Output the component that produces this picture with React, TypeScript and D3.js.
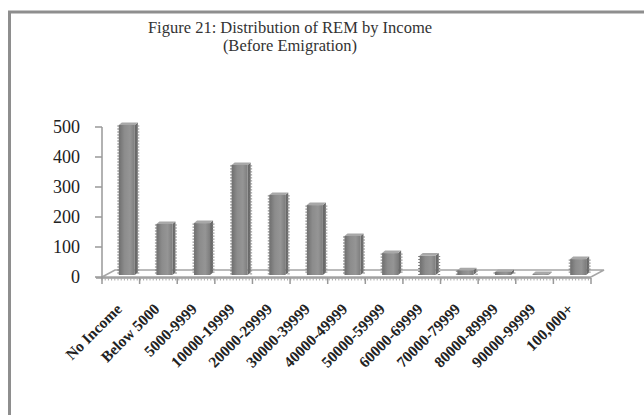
import React from "react";
import * as d3 from "d3";

const categories = [
  "No Income",
  "Below 5000",
  "5000-9999",
  "10000-19999",
  "20000-29999",
  "30000-39999",
  "40000-49999",
  "50000-59999",
  "60000-69999",
  "70000-79999",
  "80000-89999",
  "90000-99999",
  "100,000+",
];
const counts = [500, 170, 173, 367, 267, 233, 130, 73, 65, 16, 10, 3, 53];
const yTicks = [0, 100, 200, 300, 400, 500];
const titleLines = ["Figure 21: Distribution of REM by Income", "(Before Emigration)"];

const W = 644;
const H = 415;
const plotLeft = 102;
const plotRight = 591;
const baseY = 277;
const topY = 127;
// floor depth offset (back edge relative to front edge)
const depthX = 13;
const depthY = -7;
// bar placement inside the depth
const barDX = 6;
const barDY = -2;
const barW = 16;
const sideW = 3;
const capH = 2.5;

const serif = "'Liberation Serif', 'Times New Roman', serif";

export default function App() {
  const x = d3.scaleBand<string>().domain(categories).range([plotLeft, plotRight]);
  const y = d3.scaleLinear().domain([0, 500]).range([baseY, topY]);

  const floorPath = `M${plotLeft},${baseY} L${plotRight},${baseY} L${plotRight + depthX},${baseY + depthY} L${plotLeft + depthX},${baseY + depthY} Z`;

  const minorTicks = d3.range(plotLeft, plotRight, 3.2);

  return (
    <svg
      width={W}
      height={H}
      style={{ position: "absolute", left: 0, top: 0, background: "#fff" }}
    >
      <defs>
        <linearGradient id="barFront" x1="0" x2="1" y1="0" y2="0">
          <stop offset="0" stopColor="#6f6f6f" />
          <stop offset="0.35" stopColor="#8c8c8c" />
          <stop offset="0.7" stopColor="#959595" />
          <stop offset="1" stopColor="#7d7d7d" />
        </linearGradient>
      </defs>

      {/* outer frame */}
      <rect x={9.5} y={12} width={W + 10} height={H + 10} fill="none" stroke="#8e8e8e" strokeWidth={3} />

      {/* title */}
      {titleLines.map((t, i) => (
        <text
          key={t}
          x={290}
          y={33 + i * 18}
          textAnchor="middle"
          fontFamily={serif}
          fontSize={16.5}
          fill="#333"
        >
          {t}
        </text>
      ))}

      {/* floor */}
      <path d={floorPath} fill="#fff" stroke="#a5a5a5" strokeWidth={1.5} />

      {/* y axis */}
      <line x1={plotLeft} x2={plotLeft} y1={topY} y2={baseY + 2} stroke="#999" strokeWidth={1.5} />
      {yTicks.map((t) => (
        <g key={t}>
          <line x1={plotLeft - 7} x2={plotLeft} y1={y(t)} y2={y(t)} stroke="#999" strokeWidth={1.5} />
          <text
            x={80}
            y={y(t)}
            dy="0.35em"
            textAnchor="end"
            fontFamily={serif}
            fontSize={18}
            fill="#222"
          >
            {t}
          </text>
        </g>
      ))}

      {/* x axis with minor and major ticks */}
      <line x1={plotLeft - 6} x2={plotRight} y1={baseY + 1} y2={baseY + 1} stroke="#999" strokeWidth={1.5} />
      {minorTicks.map((mx, i) => (
        <line key={i} x1={mx} x2={mx} y1={baseY + 1} y2={baseY + 3.5} stroke="#aaa" strokeWidth={1} />
      ))}
      {categories.map((c) => (
        <line
          key={c}
          x1={(x(c) as number) + x.bandwidth()}
          x2={(x(c) as number) + x.bandwidth()}
          y1={baseY + 1}
          y2={baseY + 7}
          stroke="#999"
          strokeWidth={1.5}
        />
      ))}
      <line x1={plotLeft} x2={plotLeft} y1={baseY + 1} y2={baseY + 7} stroke="#999" strokeWidth={1.5} />

      {/* columns */}
      {categories.map((c, i) => {
        const cx = (x(c) as number) + x.bandwidth() / 2 + barDX;
        const x0 = cx - barW / 2;
        const yb = baseY + barDY;
        const yt = y(counts[i]) + barDY;
        const h = Math.max(yb - yt, 0.5);
        const dashes = d3.range(yt + 1, yb, 3);
        return (
          <g key={c}>
            {/* right side face */}
            <path
              d={`M${x0 + barW},${yt} L${x0 + barW + sideW},${yt - capH} L${x0 + barW + sideW},${yb - capH} L${x0 + barW},${yb} Z`}
              fill="#6a6a6a"
            />
            {/* front face */}
            <rect x={x0} y={yt} width={barW} height={h} fill="url(#barFront)" />
            {/* top cap */}
            <path
              d={`M${x0},${yt} L${x0 + sideW},${yt - capH} L${x0 + barW + sideW},${yt - capH} L${x0 + barW},${yt} Z`}
              fill="#a8a8a8"
            />
            {/* edge texture */}
            {dashes.map((dy, k) => (
              <g key={k}>
                <line x1={x0 - 1.5} x2={x0 + 2} y1={dy} y2={dy} stroke="#777" strokeWidth={1} />
                <line x1={x0 + barW + sideW - 1} x2={x0 + barW + sideW + 1.5} y1={dy} y2={dy} stroke="#888" strokeWidth={1} />
              </g>
            ))}
          </g>
        );
      })}

      {/* category labels */}
      {categories.map((c) => {
        const lx = (x(c) as number) + x.bandwidth() / 2 + 2;
        const ly = 310;
        return (
          <text
            key={c}
            x={lx}
            y={ly}
            transform={`rotate(-45, ${lx}, ${ly})`}
            textAnchor="end"
            fontFamily={serif}
            fontSize={15.5}
            fontWeight="bold"
            fill="#222"
          >
            {c}
          </text>
        );
      })}
    </svg>
  );
}
